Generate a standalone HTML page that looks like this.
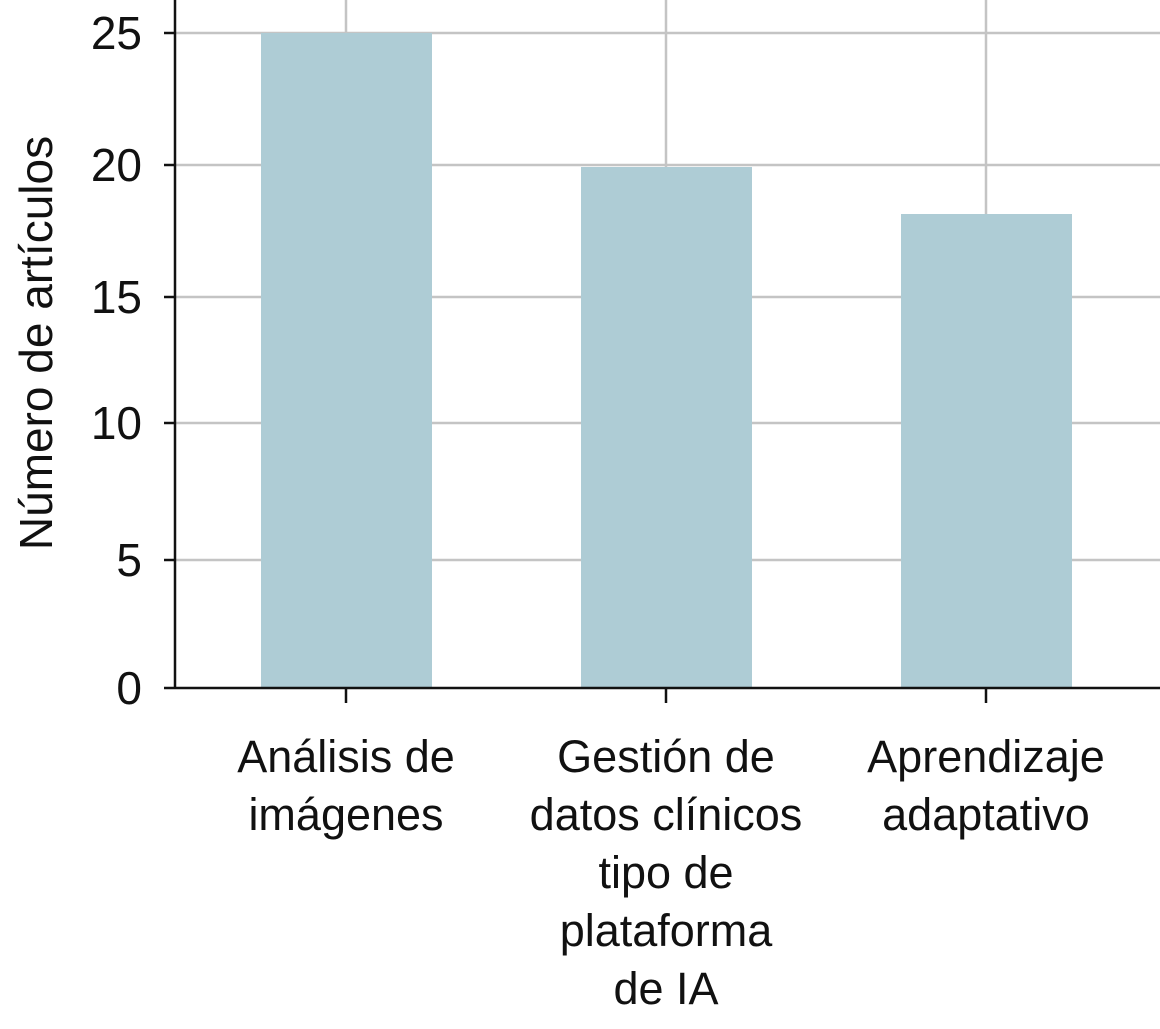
<!DOCTYPE html>
<html><head><meta charset="utf-8"><style>
html,body{margin:0;padding:0;background:#fff;}
svg text{font-family:"Liberation Sans",sans-serif;fill:#111;}
</style></head><body>
<svg width="1160" height="1024" viewBox="0 0 1160 1024" xmlns="http://www.w3.org/2000/svg">
<g stroke="#c4c4c4" stroke-width="2.5">
<line x1="175" y1="33" x2="1160" y2="33"/>
<line x1="175" y1="165" x2="1160" y2="165"/>
<line x1="175" y1="297" x2="1160" y2="297"/>
<line x1="175" y1="423" x2="1160" y2="423"/>
<line x1="175" y1="560" x2="1160" y2="560"/>
<line x1="346" y1="0" x2="346" y2="688"/>
<line x1="666" y1="0" x2="666" y2="688"/>
<line x1="986" y1="0" x2="986" y2="688"/>
</g>
<g fill="#aeccd5">
<rect x="261" y="33" width="171" height="655"/>
<rect x="581" y="167" width="171" height="521"/>
<rect x="901" y="214" width="171" height="474"/>
</g>
<g stroke="#111" stroke-width="2.5">
<line x1="175" y1="0" x2="175" y2="689"/>
<line x1="164" y1="688" x2="1160" y2="688"/>
<line x1="164" y1="33" x2="175" y2="33"/>
<line x1="164" y1="165" x2="175" y2="165"/>
<line x1="164" y1="297" x2="175" y2="297"/>
<line x1="164" y1="423" x2="175" y2="423"/>
<line x1="164" y1="560" x2="175" y2="560"/>
<line x1="346" y1="688" x2="346" y2="703"/>
<line x1="666" y1="688" x2="666" y2="703"/>
<line x1="986" y1="688" x2="986" y2="703"/>
</g>
<g font-size="46" text-anchor="end">
<text x="142" y="49">25</text>
<text x="142" y="181">20</text>
<text x="142" y="313">15</text>
<text x="142" y="439">10</text>
<text x="142" y="576">5</text>
<text x="142" y="704">0</text>
</g>
<text transform="translate(52,343) rotate(-90)" font-size="46" text-anchor="middle">Número de artículos</text>
<g font-size="45" text-anchor="middle">
<text x="346" y="772">Análisis de</text>
<text x="346" y="830">imágenes</text>
<text x="666" y="772">Gestión de</text>
<text x="666" y="830">datos clínicos</text>
<text x="666" y="888">tipo de</text>
<text x="666" y="946">plataforma</text>
<text x="666" y="1004">de IA</text>
<text x="986" y="772">Aprendizaje</text>
<text x="986" y="830">adaptativo</text>
</g>
</svg>
</body></html>
